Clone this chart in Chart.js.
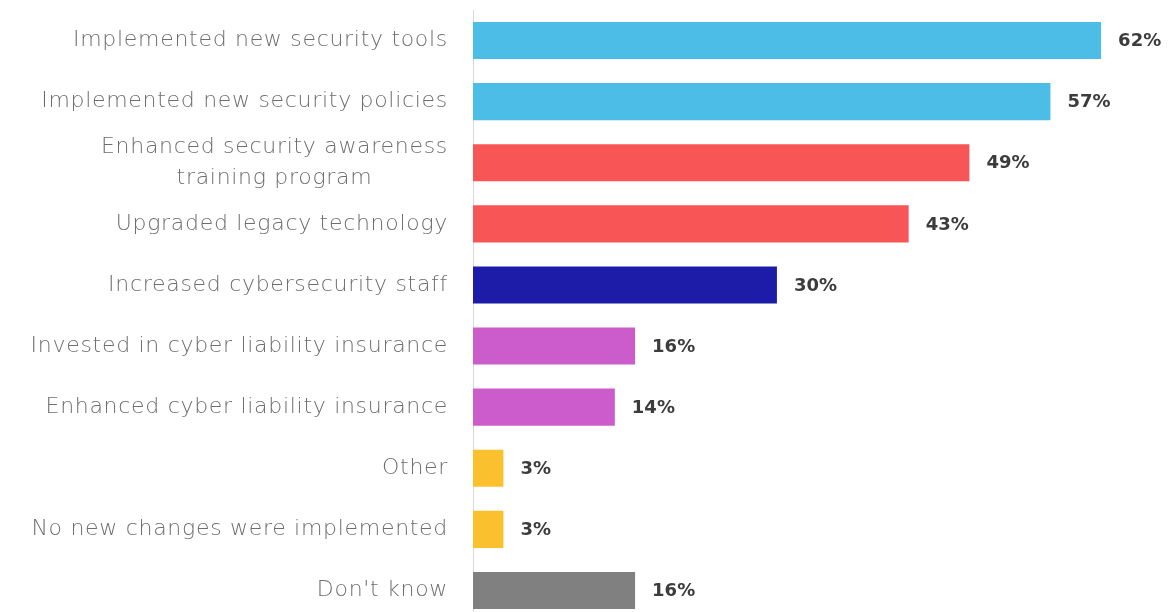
<!DOCTYPE html>
<html>
<head>
<meta charset="utf-8">
<script src="https://cdn.jsdelivr.net/npm/chart.js@4/dist/chart.umd.min.js"></script>
<style>
  html, body { margin: 0; padding: 0; background: #ffffff; overflow: hidden; }
  #wrap { position: relative; width: 1170px; height: 622px; }
</style>
</head>
<body>
<div id="wrap"><canvas id="c"></canvas></div>
<script>
// Actions taken in response to security concerns (% of respondents)
const categories = [
  ["Implemented new security tools"],
  ["Implemented new security policies"],
  ["Enhanced security awareness", "training program"],
  ["Upgraded legacy technology"],
  ["Increased cybersecurity staff"],
  ["Invested in cyber liability insurance"],
  ["Enhanced cyber liability insurance"],
  ["Other"],
  ["No new changes were implemented"],
  ["Don't know"]
];
const values = [62, 57, 49, 43, 30, 16, 14, 3, 3, 16];
const barColors = [
  "#4bbde6", "#4bbde6",
  "#f85556", "#f85556",
  "#1c1ca8",
  "#cc5ccc", "#cc5ccc",
  "#fbc02d", "#fbc02d",
  "#808080"
];

const LABEL_FONT = '300 22px "DejaVu Sans", sans-serif';
const VALUE_FONT = 'bold 18px "DejaVu Sans", sans-serif';

// Category names: right-aligned block, lines centred within the block
const categoryLabels = {
  id: "categoryLabels",
  afterDraw(chart) {
    const ctx = chart.ctx;
    const y = chart.scales.y;
    const right = y.right - 25;
    const lineH = 31;
    ctx.save();
    ctx.font = LABEL_FONT;
    ctx.letterSpacing = "0.7px";
    ctx.fillStyle = "#6e6e6e";
    ctx.textBaseline = "middle";
    ctx.textAlign = "center";
    categories.forEach((lines, i) => {
      const cy = y.getPixelForTick(i);
      const w = Math.max(...lines.map(l => ctx.measureText(l).width));
      const cx = right - w / 2;
      const y0 = cy - (lines.length - 1) * lineH / 2;
      lines.forEach((l, k) => ctx.fillText(l, cx, y0 + k * lineH));
    });
    ctx.restore();
  }
};

// Percentage labels just past the end of each bar
const valueLabels = {
  id: "valueLabels",
  afterDatasetsDraw(chart) {
    const ctx = chart.ctx;
    const meta = chart.getDatasetMeta(0);
    ctx.save();
    ctx.font = VALUE_FONT;
    ctx.fillStyle = "#3c3c3c";
    ctx.textBaseline = "middle";
    ctx.textAlign = "left";
    meta.data.forEach((bar, i) => {
      ctx.fillText(values[i] + "%", bar.x + 17, bar.y + 1);
    });
    ctx.restore();
  }
};

new Chart(document.getElementById("c"), {
  type: "bar",
  data: {
    labels: categories.map(l => l.join(" ")),
    datasets: [{
      data: values,
      backgroundColor: barColors,
      borderWidth: 0,
      categoryPercentage: 0.8,
      barPercentage: 0.76
    }]
  },
  options: {
    indexAxis: "y",
    responsive: true,
    maintainAspectRatio: false,
    animation: false,
    layout: { padding: { top: 10, right: 0, bottom: 1, left: 0 } },
    plugins: {
      legend: { display: false },
      tooltip: { enabled: false }
    },
    scales: {
      x: {
        min: 0,
        max: 68.8,
        display: false,
        grid: { display: false }
      },
      y: {
        grid: { display: false, drawTicks: false },
        border: { display: true, color: "#d9d9d9", width: 1 },
        ticks: { display: false },
        afterFit(scale) { scale.width = 473; }
      }
    }
  },
  plugins: [categoryLabels, valueLabels]
});
</script>
</body>
</html>
